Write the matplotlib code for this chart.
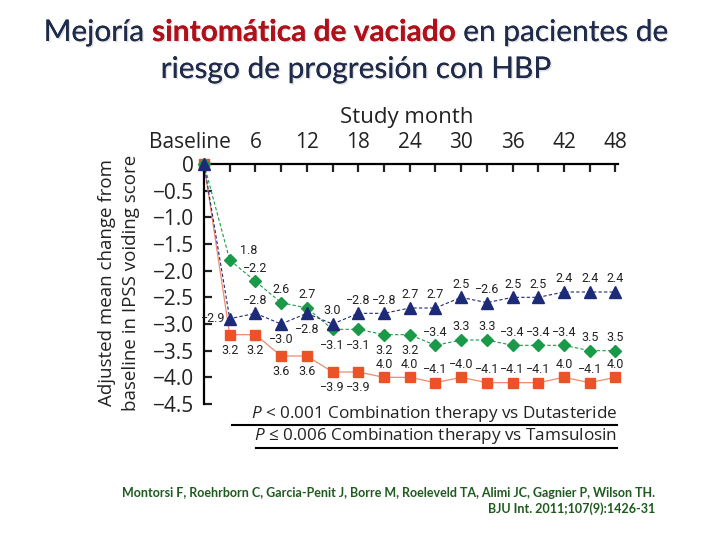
import matplotlib
matplotlib.use("Agg")
import matplotlib.pyplot as plt
from matplotlib import patheffects as pe
from matplotlib import transforms
from matplotlib.lines import Line2D
from matplotlib.ticker import MultipleLocator

plt.rcParams['font.family'] = ['Open Sans', 'DejaVu Sans']
plt.rcParams['mathtext.fontset'] = 'custom'
plt.rcParams['mathtext.rm'] = 'Open Sans'
plt.rcParams['mathtext.it'] = 'Open Sans:italic'

# study months (every 3 months, baseline = 0)
months = [0, 3, 6, 9, 12, 15, 18, 21, 24, 27, 30, 33, 36, 39, 42, 45, 48]
tick_months = [0, 6, 12, 18, 24, 30, 36, 42, 48]
tick_labels = ['Baseline', '6', '12', '18', '24', '30', '36', '42', '48']

tamsulosin = [0, -2.9, -2.8, -3.0, -2.8, -3.0, -2.8, -2.8, -2.7, -2.7, -2.5, -2.6, -2.5, -2.5, -2.4, -2.4, -2.4]
dutasteride = [0, -1.8, -2.2, -2.6, -2.7, -3.1, -3.1, -3.2, -3.2, -3.4, -3.3, -3.3, -3.4, -3.4, -3.4, -3.5, -3.5]
combination = [0, -3.2, -3.2, -3.6, -3.6, -3.9, -3.9, -4.0, -4.0, -4.1, -4.0, -4.1, -4.1, -4.1, -4.0, -4.1, -4.0]

# printed value labels as they appear on the chart
tam_text = [None, '−2.9', '−2.8', '−3.0', '−2.8', '3.0', '−2.8', '−2.8', '2.7', '2.7', '2.5', '−2.6', '2.5', '2.5', '2.4', '2.4', '2.4']
dut_text = [None, '1.8', '−2.2', '2.6', '2.7', '−3.1', '−3.1', '3.2', '3.2', '−3.4', '3.3', '3.3', '−3.4', '−3.4', '−3.4', '3.5', '3.5']
com_text = [None, '3.2', '3.2', '3.6', '3.6', '−3.9', '−3.9', '4.0', '4.0', '−4.1', '−4.0', '−4.1', '−4.1', '−4.1', '4.0', '−4.1', '4.0']
# where each label sits: a=above, b=below, l=left, r=above right
tam_place = [None, 'l', 'a', 'b', 'b', 'a', 'a', 'a', 'a', 'a', 'a', 'a', 'a', 'a', 'a', 'a', 'a']
dut_place = [None, 'r', 'a', 'a', 'a', 'b', 'b', 'b', 'b', 'a', 'a', 'a', 'a', 'a', 'a', 'a', 'a']
com_place = [None, 'b', 'b', 'b', 'b', 'b', 'b', 'a', 'a', 'a', 'a', 'a', 'a', 'a', 'a', 'a', 'a']

navy = '#1c2a78'
green = '#1a9a48'
orange = '#ea5328'

W, H = 720, 540
fig = plt.figure(figsize=(7.2, 5.4), dpi=100)
ax = fig.add_axes([204 / W, 1 - 404 / H, 414 / W, 240 / H])

ax.plot(months, combination, color='#f08a70', lw=0.9, zorder=2, clip_on=False)
ax.plot(months, combination, ls='none', marker='s', ms=7, color=orange, zorder=3, clip_on=False)
ax.plot(months, dutasteride, color=green, lw=0.8, ls=(0, (3, 2)), zorder=2, clip_on=False)
ax.plot(months, dutasteride, ls='none', marker='D', ms=6.5, color=green, zorder=3, clip_on=False)
ax.plot(months, tamsulosin, color=navy, lw=0.8, ls=(0, (3, 2)), zorder=2, clip_on=False)
ax.plot(months, tamsulosin, ls='none', marker='^', ms=8, color=navy, zorder=4, clip_on=False)

offsets = {'a': (0, 9.5, 'center'), 'b': (0, -11.5, 'center'), 'l': (-3, 0, 'right'), 'r': (14, 7, 'center')}
for vals, texts, places in [(tamsulosin, tam_text, tam_place),
                            (dutasteride, dut_text, dut_place),
                            (combination, com_text, com_place)]:
    for m, v, t, p in zip(months, vals, texts, places):
        if t is None:
            continue
        dx, dy, ha = offsets[p]
        ax.annotate(t, (m, v), xytext=(dx, dy), textcoords='offset points',
                    ha=ha, va='center', fontsize=9, color='#222222',
                    family=['Roboto', 'DejaVu Sans'])

ax.set_xlim(0, 48.3)
ax.set_ylim(-4.5, 0)
ax.spines['right'].set_visible(False)
ax.spines['bottom'].set_visible(False)
ax.spines['left'].set_linewidth(1.6)
ax.spines['top'].set_linewidth(1.6)

ax.xaxis.tick_top()
ax.set_xticks(tick_months)
ax.set_xticklabels(tick_labels)
ax.xaxis.set_minor_locator(MultipleLocator(3))
ax.tick_params(axis='x', which='both', direction='in', length=6, width=1.6, pad=8, labelsize=15, colors='#222222')
ax.set_yticks([0, -0.5, -1, -1.5, -2, -2.5, -3, -3.5, -4, -4.5])
ax.set_yticklabels(['0', '−0.5', '−1.0', '−1.5', '−2.0', '−2.5', '−3.0', '−3.5', '−4.0', '−4.5'])
ax.tick_params(axis='y', direction='in', length=6, width=1.6, pad=7, labelsize=15, colors='#222222')
lab0 = ax.xaxis.get_majorticklabels()[0]
lab0.set_transform(lab0.get_transform() + transforms.ScaledTranslation(-0.14, 0, fig.dpi_scale_trans))

fig.text(407 / W, 1 - 118 / H, 'Study month', ha='center', va='center', fontsize=16, color='#222222')
fig.text(119 / W, 1 - 283 / H, 'Adjusted mean change from\nbaseline in IPSS voiding score',
         rotation=90, ha='center', va='center', fontsize=13.5, color='#222222', linespacing=1.4)

# p-value notes with rules
fig.text(617 / W, 1 - 414 / H, r'$\it{P}$ < 0.001 Combination therapy vs Dutasteride',
         ha='right', va='center', fontsize=12.3, color='#222222')
fig.text(617 / W, 1 - 436 / H, r'$\it{P}$ ≤ 0.006 Combination therapy vs Tamsulosin',
         ha='right', va='center', fontsize=12.3, color='#222222')
fig.add_artist(Line2D([232 / W, 617 / W], [1 - 425 / H] * 2, color='black', lw=1.5))
fig.add_artist(Line2D([256 / W, 617 / W], [1 - 448 / H] * 2, color='black', lw=1.5))

# title with coloured middle part
title_navy = '#1f2b4a'
title_red = '#b0101a'
shadow = [pe.withSimplePatchShadow(offset=(1, -1), alpha=0.25, shadow_rgbFace='gray'), pe.Normal()]
line1 = [('Mejoría ', title_navy, 'normal'), ('sintomática de vaciado', title_red, 'bold'),
         (' en pacientes de', title_navy, 'normal')]
pieces = []
for s, c, w in line1:
    t = fig.text(0, 1 - 32 / H, s, fontsize=21.5, color=c, weight=w, va='center', ha='left',
                 family=['Lato', 'DejaVu Sans'], path_effects=shadow)
    pieces.append(t)
fig.canvas.draw()
r = fig.canvas.get_renderer()
widths = [p.get_window_extent(r).width for p in pieces]
x = 356 - sum(widths) / 2
for p, w in zip(pieces, widths):
    p.set_x(x / W)
    x += w
fig.text(356 / W, 1 - 69 / H, 'riesgo de progresión con HBP', fontsize=21.5, color=title_navy,
         ha='center', va='center', family=['Lato', 'DejaVu Sans'], path_effects=shadow)

fig.text(655 / W, 1 - 501 / H,
         'Montorsi F, Roehrborn C, Garcia-Penit J, Borre M, Roeleveld TA, Alimi JC, Gagnier P, Wilson TH.\n'
         'BJU Int. 2011;107(9):1426-31',
         ha='right', va='center', multialignment='right', fontsize=9, weight='bold',
         color='#1e5a1e', family=['Lato', 'DejaVu Sans'], linespacing=1.3)

fig.savefig('out.png', dpi=100)
